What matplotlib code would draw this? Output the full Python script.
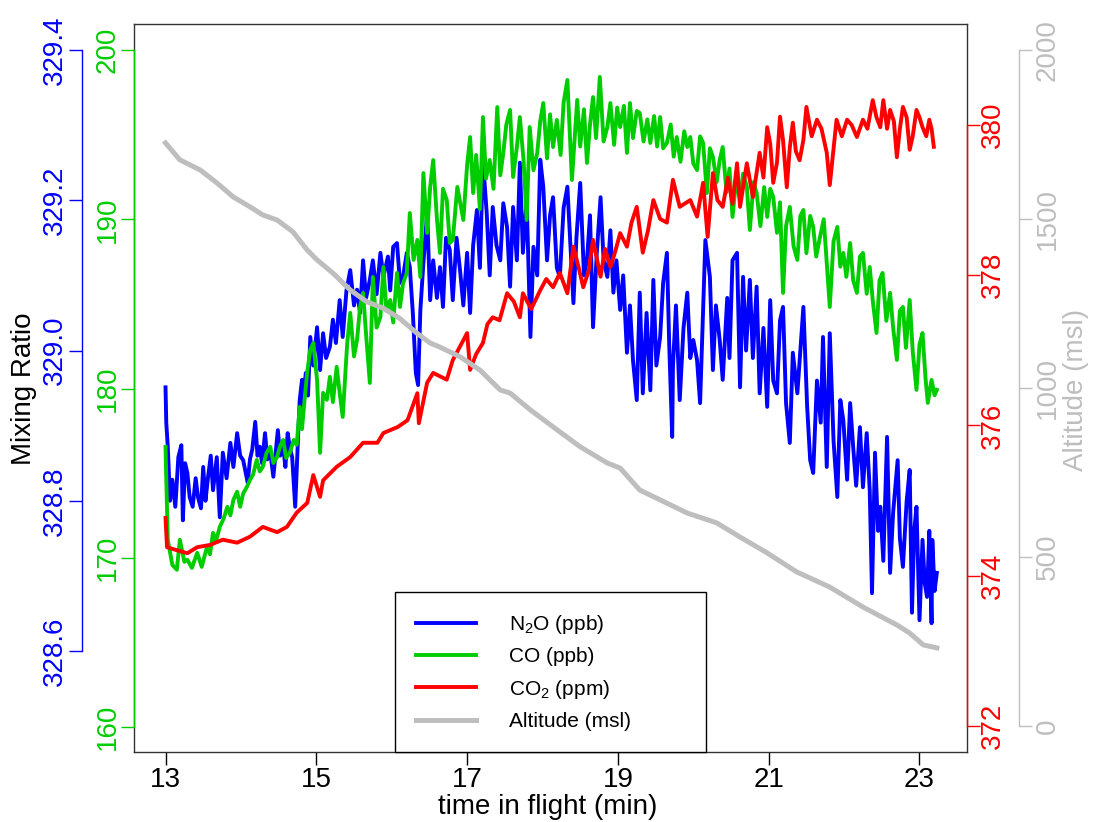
import matplotlib
matplotlib.use('Agg')
import matplotlib.pyplot as plt

plt.rcParams['font.family'] = ['Liberation Sans', 'DejaVu Sans']
plt.rcParams['mathtext.fontset'] = 'custom'
plt.rcParams['mathtext.rm'] = 'Liberation Sans'
plt.rcParams['mathtext.default'] = 'regular'

# time in flight (min) and the four series
n2o_t = [13.00, 13.01, 13.03, 13.06, 13.09, 13.13, 13.17, 13.21, 13.23, 13.26,
         13.29, 13.32, 13.36, 13.40, 13.43, 13.47, 13.50, 13.53, 13.56, 13.60,
         13.63, 13.68, 13.72, 13.76, 13.81, 13.86, 13.90, 13.95, 13.99, 14.03,
         14.09, 14.12, 14.15, 14.19, 14.22, 14.25, 14.28, 14.32, 14.35, 14.39,
         14.43, 14.49, 14.52, 14.56, 14.59, 14.62, 14.65, 14.68, 14.72, 14.76,
         14.78, 14.81, 14.82, 14.86, 14.89, 14.92, 14.96, 15.01, 15.05, 15.09,
         15.13, 15.18, 15.22, 15.26, 15.31, 15.35, 15.40, 15.45, 15.50, 15.54,
         15.58, 15.62, 15.66, 15.71, 15.75, 15.80, 15.85, 15.89, 15.95, 15.98,
         16.02, 16.07, 16.11, 16.15, 16.20, 16.24, 16.28, 16.32, 16.35, 16.38,
         16.42, 16.47, 16.51, 16.55, 16.60, 16.64, 16.68, 16.72, 16.77, 16.81,
         16.86, 16.91, 16.95, 17.00, 17.04, 17.08, 17.13, 17.17, 17.21, 17.26,
         17.30, 17.34, 17.39, 17.44, 17.48, 17.53, 17.57, 17.61, 17.66, 17.70,
         17.74, 17.79, 17.84, 17.88, 17.93, 17.97, 18.01, 18.06, 18.10, 18.14,
         18.19, 18.23, 18.28, 18.33, 18.41, 18.45, 18.50, 18.55, 18.59, 18.63,
         18.67, 18.72, 18.77, 18.81, 18.86, 18.90, 18.94, 18.98, 19.03, 19.07,
         19.12, 19.16, 19.20, 19.25, 19.29, 19.33, 19.38, 19.43, 19.47, 19.51,
         19.56, 19.60, 19.65, 19.68, 19.72, 19.73, 19.77, 19.82, 19.87, 19.92,
         19.96, 20.00, 20.05, 20.09, 20.16, 20.22, 20.26, 20.30, 20.35, 20.39,
         20.45, 20.48, 20.52, 20.58, 20.62, 20.66, 20.70, 20.75, 20.79, 20.84,
         20.88, 20.93, 20.98, 21.02, 21.06, 21.11, 21.15, 21.19, 21.23, 21.28,
         21.32, 21.38, 21.42, 21.46, 21.51, 21.55, 21.59, 21.64, 21.69, 21.72,
         21.77, 21.81, 21.86, 21.91, 21.95, 21.99, 22.04, 22.08, 22.12, 22.16,
         22.21, 22.25, 22.30, 22.34, 22.37, 22.41, 22.45, 22.48, 22.52, 22.57,
         22.61, 22.65, 22.71, 22.74, 22.78, 22.83, 22.87, 22.90, 22.93, 22.96,
         23.00, 23.04, 23.07, 23.10, 23.13, 23.16, 23.17, 23.20, 23.23]
n2o = [328.951, 328.904, 328.872, 328.800, 328.828, 328.792, 328.858, 328.874, 328.774, 328.850,
       328.837, 328.805, 328.792, 328.830, 328.805, 328.790, 328.845, 328.800, 328.828, 328.860,
       328.814, 328.858, 328.778, 328.864, 328.830, 328.877, 328.845, 328.890, 328.860, 328.854,
       328.824, 328.855, 328.868, 328.905, 328.860, 328.872, 328.850, 328.890, 328.855, 328.864,
       328.832, 328.894, 328.860, 328.872, 328.845, 328.890, 328.870, 328.858, 328.792, 328.890,
       328.934, 328.961, 328.925, 328.970, 328.940, 329.018, 328.980, 329.031, 328.974, 329.023,
       328.990, 329.005, 329.041, 329.010, 329.067, 329.018, 329.080, 329.107, 329.060, 329.081,
       329.050, 329.120, 329.070, 329.094, 329.120, 329.075, 329.130, 329.098, 329.125, 329.080,
       329.138, 329.143, 329.090, 329.098, 329.130, 329.111, 329.050, 328.970, 328.954, 329.054,
       329.116, 329.183, 329.067, 329.120, 329.070, 329.111, 329.058, 329.150, 329.134, 329.067,
       329.150, 329.103, 329.060, 329.130, 329.050, 329.140, 329.187, 329.110, 329.254, 329.183,
       329.100, 329.191, 329.140, 329.120, 329.196, 329.164, 329.085, 329.191, 329.120, 329.250,
       329.130, 329.200, 329.018, 329.138, 329.100, 329.254, 329.218, 329.120, 329.180, 329.204,
       329.110, 329.098, 329.190, 329.218, 329.063, 329.150, 329.223, 329.100, 329.120, 329.180,
       329.031, 329.130, 329.204, 329.120, 329.098, 329.160, 329.077, 329.120, 329.054, 329.100,
       328.997, 329.060, 328.987, 328.934, 329.077, 328.943, 329.050, 328.947, 329.094, 328.980,
       329.018, 329.090, 329.130, 329.010, 328.885, 328.978, 329.060, 328.934, 329.030, 329.077,
       328.990, 329.014, 328.987, 328.930, 329.147, 329.098, 328.974, 329.060, 329.014, 328.961,
       329.070, 328.990, 329.120, 329.130, 328.951, 329.098, 329.000, 329.094, 328.990, 329.085,
       328.943, 329.030, 328.925, 329.067, 328.960, 328.943, 329.040, 329.058, 328.930, 328.877,
       328.997, 328.943, 329.000, 329.058, 328.925, 328.854, 328.837, 328.960, 328.904, 329.018,
       328.845, 329.023, 328.880, 328.805, 328.934, 328.907, 328.828, 328.930, 328.872, 328.820,
       328.898, 328.818, 328.890, 328.814, 328.677, 328.864, 328.760, 328.792, 328.720, 328.885,
       328.704, 328.784, 328.854, 328.750, 328.712, 328.800, 328.841, 328.651, 328.760, 328.792,
       328.641, 328.748, 328.690, 328.672, 328.760, 328.637, 328.748, 328.680, 328.704]

co_t = [13.00, 13.03, 13.09, 13.15, 13.19, 13.25, 13.29, 13.35, 13.42, 13.48,
        13.55, 13.59, 13.63, 13.67, 13.72, 13.77, 13.82, 13.86, 13.90, 13.95,
        13.99, 14.03, 14.08, 14.12, 14.16, 14.21, 14.25, 14.29, 14.34, 14.39,
        14.43, 14.48, 14.52, 14.56, 14.60, 14.65, 14.70, 14.74, 14.78, 14.81,
        14.85, 14.88, 14.92, 14.96, 15.01, 15.05, 15.09, 15.14, 15.18, 15.22,
        15.27, 15.31, 15.35, 15.41, 15.45, 15.50, 15.54, 15.58, 15.62, 15.66,
        15.71, 15.75, 15.80, 15.85, 15.89, 15.93, 15.98, 16.02, 16.07, 16.11,
        16.15, 16.20, 16.24, 16.29, 16.34, 16.38, 16.42, 16.47, 16.51, 16.55,
        16.60, 16.64, 16.68, 16.73, 16.77, 16.81, 16.87, 16.95, 17.00, 17.04,
        17.08, 17.12, 17.17, 17.21, 17.25, 17.30, 17.35, 17.40, 17.44, 17.48,
        17.52, 17.57, 17.61, 17.66, 17.70, 17.75, 17.79, 17.83, 17.88, 17.93,
        17.97, 18.01, 18.06, 18.10, 18.14, 18.19, 18.24, 18.28, 18.33, 18.39,
        18.46, 18.50, 18.55, 18.59, 18.63, 18.67, 18.71, 18.76, 18.81, 18.86,
        18.90, 18.95, 18.99, 19.03, 19.08, 19.12, 19.16, 19.20, 19.25, 19.29,
        19.34, 19.39, 19.43, 19.48, 19.52, 19.56, 19.60, 19.65, 19.70, 19.74,
        19.78, 19.83, 19.88, 19.92, 19.96, 20.00, 20.05, 20.09, 20.13, 20.18,
        20.22, 20.26, 20.31, 20.35, 20.39, 20.44, 20.48, 20.52, 20.57, 20.62,
        20.66, 20.71, 20.75, 20.80, 20.84, 20.89, 20.94, 20.98, 21.02, 21.06,
        21.11, 21.15, 21.19, 21.23, 21.28, 21.33, 21.38, 21.42, 21.46, 21.50,
        21.55, 21.59, 21.63, 21.68, 21.73, 21.77, 21.81, 21.86, 21.91, 21.95,
        21.99, 22.03, 22.08, 22.12, 22.17, 22.21, 22.25, 22.30, 22.34, 22.38,
        22.43, 22.47, 22.51, 22.56, 22.61, 22.65, 22.70, 22.74, 22.78, 22.82,
        22.87, 22.91, 22.96, 23.00, 23.04, 23.08, 23.11, 23.16, 23.20, 23.23]
co = [176.55, 171.06, 169.58, 169.29, 171.06, 169.76, 169.88, 169.40, 170.29, 169.46,
      170.64, 170.20, 171.47, 171.00, 171.83, 172.30, 173.01, 172.50, 173.42, 173.90,
      173.01, 173.80, 174.19, 174.60, 174.90, 175.78, 175.10, 175.37, 176.20, 176.55,
      175.60, 175.96, 176.60, 176.96, 175.90, 176.20, 176.96, 176.67, 178.91, 177.60,
      179.62, 181.00, 182.28, 182.69, 180.51, 176.20, 179.74, 179.33, 180.69, 179.20,
      181.28, 179.74, 178.32, 182.69, 184.47, 181.90, 182.87, 184.80, 185.65, 183.20,
      180.33, 186.59, 183.60, 184.23, 187.18, 184.60, 185.23, 183.90, 186.83, 184.82,
      186.20, 186.83, 190.37, 187.60, 188.78, 186.59, 192.73, 189.19, 191.91, 193.50,
      190.00, 188.01, 191.80, 191.14, 188.60, 188.78, 191.91, 189.96, 193.20, 194.86,
      191.55, 193.80, 190.60, 196.04, 192.40, 193.50, 191.80, 196.63, 192.60, 193.92,
      195.60, 196.46, 192.50, 194.27, 196.04, 193.40, 189.96, 195.45, 192.90, 193.92,
      195.80, 196.87, 193.60, 196.20, 194.27, 195.87, 193.80, 196.90, 198.23, 192.32,
      197.05, 194.30, 196.50, 193.33, 195.60, 197.22, 194.80, 198.41, 194.60, 195.45,
      196.87, 194.40, 196.60, 195.45, 196.70, 193.92, 196.87, 194.80, 196.40, 196.28,
      194.60, 195.90, 194.51, 196.10, 194.30, 196.04, 194.20, 194.51, 195.60, 193.70,
      194.86, 193.40, 195.20, 194.27, 194.86, 193.30, 192.91, 194.90, 194.51, 191.55,
      194.20, 193.68, 192.20, 193.50, 194.27, 191.60, 193.00, 190.14, 192.40, 191.14,
      192.70, 191.91, 189.37, 192.20, 191.55, 189.60, 191.90, 190.14, 191.80, 191.32,
      189.20, 191.00, 185.65, 189.60, 190.73, 188.40, 187.60, 190.20, 190.55, 188.00,
      190.20, 189.55, 187.80, 188.95, 190.00, 187.40, 184.82, 188.70, 189.55, 187.20,
      188.01, 186.60, 188.60, 186.40, 185.65, 187.80, 188.01, 185.60, 187.18, 185.20,
      183.28, 186.40, 186.83, 184.00, 185.65, 183.60, 181.69, 184.60, 184.82, 182.40,
      185.23, 182.20, 179.92, 182.60, 183.28, 180.60, 179.15, 180.51, 179.60, 179.92]

co2_t = [13.00, 13.02, 13.15, 13.29, 13.42, 13.59, 13.76, 13.95, 14.12, 14.29,
         14.48, 14.61, 14.74, 14.88, 14.96, 15.05, 15.09, 15.27, 15.45, 15.62,
         15.81, 15.89, 16.08, 16.21, 16.34, 16.36, 16.47, 16.55, 16.73, 16.81,
         17.00, 17.04, 17.12, 17.21, 17.27, 17.34, 17.43, 17.53, 17.62, 17.70,
         17.74, 17.85, 17.97, 18.05, 18.14, 18.23, 18.33, 18.41, 18.48, 18.54,
         18.61, 18.67, 18.77, 18.83, 18.90, 18.96, 19.03, 19.12, 19.18, 19.25,
         19.33, 19.40, 19.47, 19.56, 19.65, 19.73, 19.82, 19.96, 20.05, 20.13,
         20.19, 20.26, 20.32, 20.39, 20.46, 20.52, 20.58, 20.62, 20.71, 20.79,
         20.88, 20.93, 20.98, 21.02, 21.06, 21.11, 21.15, 21.19, 21.24, 21.28,
         21.32, 21.36, 21.41, 21.46, 21.50, 21.57, 21.64, 21.70, 21.77, 21.81,
         21.90, 21.97, 22.04, 22.10, 22.17, 22.25, 22.31, 22.38, 22.43, 22.48,
         22.52, 22.57, 22.61, 22.66, 22.70, 22.74, 22.78, 22.83, 22.87, 22.91,
         22.96, 23.00, 23.04, 23.09, 23.13, 23.16, 23.19]
co2 = [374.77, 374.38, 374.34, 374.30, 374.38, 374.41, 374.48, 374.44, 374.52, 374.65,
       374.58, 374.65, 374.84, 374.97, 375.34, 375.05, 375.27, 375.45, 375.58, 375.77,
       375.77, 375.90, 375.98, 376.07, 376.43, 376.03, 376.57, 376.70, 376.61, 376.87,
       377.23, 376.74, 376.95, 377.10, 377.35, 377.44, 377.40, 377.76, 377.65, 377.44,
       377.76, 377.55, 377.80, 377.95, 377.84, 378.03, 377.76, 378.38, 378.10, 377.84,
       378.05, 378.47, 377.98, 378.35, 378.11, 378.30, 378.56, 378.38, 378.70, 378.91,
       378.30, 378.60, 379.00, 378.75, 378.70, 379.27, 378.91, 379.00, 378.78, 379.23,
       378.51, 379.36, 379.00, 378.91, 379.30, 378.95, 379.49, 378.91, 379.49, 379.04,
       379.63, 379.30, 379.97, 379.75, 379.23, 379.50, 380.11, 379.80, 379.17, 379.70,
       380.03, 379.65, 379.53, 379.80, 380.24, 379.85, 380.07, 379.95, 379.63, 379.20,
       380.07, 379.85, 380.07, 380.00, 379.84, 380.07, 379.95, 380.33, 380.10, 379.97,
       380.33, 379.95, 380.20, 380.05, 379.57, 379.95, 380.24, 380.10, 379.67, 379.85,
       380.20, 380.10, 379.97, 379.85, 380.07, 379.95, 379.71]

alt_t = [13.00, 13.19, 13.46, 13.68, 13.90, 14.12, 14.29, 14.48, 14.69, 14.88,
         15.01, 15.22, 15.45, 15.67, 15.88, 16.10, 16.33, 16.51, 16.64, 16.91,
         17.17, 17.44, 17.57, 17.84, 18.14, 18.50, 18.86, 19.03, 19.29, 19.56,
         19.92, 20.31, 20.62, 20.98, 21.37, 21.81, 22.25, 22.70, 22.87, 23.05,
         23.23]
alt = [1725, 1675, 1645, 1607, 1565, 1536, 1512, 1497, 1462, 1408,
       1379, 1340, 1290, 1255, 1237, 1207, 1163, 1133, 1121, 1092,
       1053, 994, 985, 935, 885, 826, 778, 763, 698, 669,
       630, 601, 559, 512, 456, 411, 352, 299, 275, 240,
       231]

time_ticks = [13, 15, 17, 19, 21, 23]
n2o_ticks = [328.6, 328.8, 329.0, 329.2, 329.4]
n2o_labels = ['328.6', '328.8', '329.0', '329.2', '329.4']
co_ticks = [160, 170, 180, 190, 200]
co2_ticks = [372, 374, 376, 378, 380]
alt_ticks = [0, 500, 1000, 1500, 2000]

BLUE = '#0000FF'
GREEN = '#00CD00'
RED = '#FF0000'
GRAY = '#BEBEBE'

fig = plt.figure(figsize=(10.94, 8.22), dpi=100)
ax = fig.add_axes([134/1094, 1 - 752/822, 833/1094, 728/822])
ax.set_xlim(12.582, 23.630)
ax.set_xticks(time_ticks)
ax.set_yticks([])
ax.tick_params(axis='x', labelsize=20, length=9, width=1, pad=1.5)
for s in ax.spines.values():
    s.set_linewidth(1)
    s.set_color('#333333')


def side_axis(ylim, ticks, labels, color, side, pos, pad):
    a = ax.twinx()
    a.set_ylim(*ylim)
    for s in a.spines.values():
        s.set_visible(False)
    sp = a.spines[side]
    sp.set_visible(True)
    sp.set_position(('axes', pos))
    sp.set_bounds(ticks[0], ticks[-1])
    sp.set_color(color)
    sp.set_linewidth(1)
    a.yaxis.set_ticks_position(side)
    a.set_yticks(ticks, labels=labels)
    a.tick_params(axis='y', colors=color, labelsize=20, length=9.5, width=1,
                  pad=pad, labelrotation=90)
    plt.setp(a.get_yticklabels(), va='center')
    return a


ax_n2o = side_axis((328.4656, 329.4346), n2o_ticks, n2o_labels, BLUE, 'left', -0.0624, 1)
ax_co = side_axis((158.52, 201.54), co_ticks, [str(v) for v in co_ticks], GREEN, 'left', 0.0, 0)
ax_co2 = side_axis((371.654, 381.344), co2_ticks, [str(v) for v in co2_ticks], RED, 'right', 1.0, 0)
ax_alt = side_axis((-76.9, 2076.9), alt_ticks, [str(v) for v in alt_ticks], GRAY, 'right', 1.0624, 2)

l1, = ax_n2o.plot(n2o_t, n2o, color=BLUE, lw=2.8, label='N$_2$O (ppb)')
l2, = ax_co.plot(co_t, co, color=GREEN, lw=2.8, label='CO (ppb)')
l3, = ax_co2.plot(co2_t, co2, color=RED, lw=2.8, label='CO$_2$ (ppm)')
l4, = ax_alt.plot(alt_t, alt, color=GRAY, lw=3.6, label='Altitude (msl)')

leg = ax_alt.legend(handles=[l1, l2, l3, l4], loc='lower left',
                    bbox_to_anchor=(261/833, 0, 311/833, 0.2), mode='expand',
                    borderaxespad=0, fontsize=15, handlelength=2.9,
                    handletextpad=1.55, labelspacing=0.55, borderpad=1.0,
                    fancybox=False, framealpha=1)
leg.get_frame().set_edgecolor('black')
leg.get_frame().set_linewidth(1)

fig.text(24/1094, 1 - 389/822, 'Mixing Ratio', rotation=90, ha='center', va='center', fontsize=20)
fig.text(1076/1094, 1 - 390/822, 'Altitude (msl)', rotation=90, ha='center', va='center',
         fontsize=20, color=GRAY)
fig.text(548/1094, 1 - 807/822, 'time in flight (min)', ha='center', va='center', fontsize=20)

fig.savefig('out.png', dpi=100)
